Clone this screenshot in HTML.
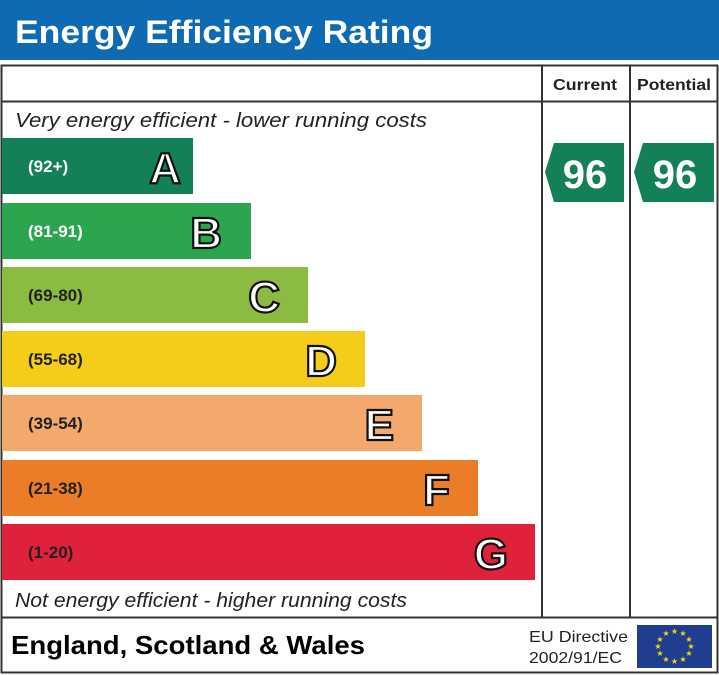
<!DOCTYPE html>
<html><head><style>body{margin:0;background:#fff}svg{display:block}svg text{font-family:"Liberation Sans",Arial,sans-serif}</style></head><body>
<svg width="719" height="675" viewBox="0 0 719 675" xmlns="http://www.w3.org/2000/svg">
<rect x="0" y="0" width="719" height="60" fill="#0e6ab2"/>
<text x="15" y="43" font-size="32" font-weight="bold" fill="#fff" textLength="418" lengthAdjust="spacingAndGlyphs">Energy Efficiency Rating</text>
<rect x="1.5" y="65.5" width="716" height="607" fill="#fff" stroke="#333" stroke-width="2"/>
<line x1="1" y1="101.5" x2="718" y2="101.5" stroke="#333" stroke-width="2"/>
<line x1="1" y1="617.5" x2="718" y2="617.5" stroke="#333" stroke-width="2"/>
<line x1="542" y1="66" x2="542" y2="617" stroke="#333" stroke-width="2"/>
<line x1="630" y1="66" x2="630" y2="617" stroke="#333" stroke-width="2"/>
<text x="553" y="90" font-size="16" font-weight="bold" fill="#222" textLength="64" lengthAdjust="spacingAndGlyphs">Current</text>
<text x="637" y="90" font-size="16" font-weight="bold" fill="#222" textLength="74" lengthAdjust="spacingAndGlyphs">Potential</text>
<text x="15" y="127" font-size="20" font-style="italic" fill="#222" textLength="412" lengthAdjust="spacingAndGlyphs">Very energy efficient - lower running costs</text>
<text x="15" y="607" font-size="20" font-style="italic" fill="#222" textLength="392" lengthAdjust="spacingAndGlyphs">Not energy efficient - higher running costs</text>
<g font-weight="bold">
<rect x="2" y="138" width="191" height="56" fill="#138057"/>
<text x="28" y="172" font-size="17" fill="#fff">(92+)</text>
<text x="181" y="183" font-size="44" fill="#fff" stroke="#111" stroke-width="2.2" text-anchor="end">A</text>
<rect x="2" y="203" width="249" height="56" fill="#2ba64f"/>
<text x="28" y="237" font-size="17" fill="#fff">(81-91)</text>
<text x="222" y="248" font-size="44" fill="#fff" stroke="#111" stroke-width="2.2" text-anchor="end">B</text>
<rect x="2" y="267" width="306" height="56" fill="#8cbb42"/>
<text x="28" y="301" font-size="17" fill="#222">(69-80)</text>
<text x="280" y="312" font-size="44" fill="#fff" stroke="#111" stroke-width="2.2" text-anchor="end">C</text>
<rect x="2" y="331" width="363" height="56" fill="#f5cc1a"/>
<text x="28" y="365" font-size="17" fill="#222">(55-68)</text>
<text x="337" y="376" font-size="44" fill="#fff" stroke="#111" stroke-width="2.2" text-anchor="end">D</text>
<rect x="2" y="395" width="420" height="56" fill="#f2a96b"/>
<text x="28" y="429" font-size="17" fill="#222">(39-54)</text>
<text x="394" y="440" font-size="44" fill="#fff" stroke="#111" stroke-width="2.2" text-anchor="end">E</text>
<rect x="2" y="460" width="476" height="56" fill="#eb7d29"/>
<text x="28" y="494" font-size="17" fill="#222">(21-38)</text>
<text x="450" y="505" font-size="44" fill="#fff" stroke="#111" stroke-width="2.2" text-anchor="end">F</text>
<rect x="2" y="524" width="533" height="56" fill="#e0213c"/>
<text x="28" y="558" font-size="17" fill="#222">(1-20)</text>
<text x="508" y="569" font-size="44" fill="#fff" stroke="#111" stroke-width="2.2" text-anchor="end">G</text>
<polygon points="554,143 624,143 624,202 554,202 545,172" fill="#138057"/>
<text x="585" y="188" font-size="40" fill="#fff" text-anchor="middle">96</text>
<polygon points="643,143 714,143 714,202 643,202 634,172" fill="#138057"/>
<text x="675" y="188" font-size="40" fill="#fff" text-anchor="middle">96</text>
</g>
<text x="11" y="654" font-size="26" font-weight="bold" fill="#000" textLength="354" lengthAdjust="spacingAndGlyphs">England, Scotland &amp; Wales</text>
<text x="529" y="642" font-size="16" fill="#222" textLength="99" lengthAdjust="spacingAndGlyphs">EU Directive</text>
<text x="529" y="663" font-size="16" fill="#222" textLength="93" lengthAdjust="spacingAndGlyphs">2002/91/EC</text>
<rect x="637" y="625" width="75" height="43" fill="#1f3e8f"/>
<g fill="#f5d80c" text-anchor="middle">
<text x="674.5" y="634" font-size="8">★</text><text x="683" y="636" font-size="8">★</text><text x="689" y="642" font-size="8">★</text><text x="691" y="649" font-size="8">★</text><text x="689" y="656" font-size="8">★</text><text x="683" y="662" font-size="8">★</text><text x="674.5" y="664" font-size="8">★</text><text x="666" y="662" font-size="8">★</text><text x="660" y="656" font-size="8">★</text><text x="658" y="649" font-size="8">★</text><text x="660" y="642" font-size="8">★</text><text x="666" y="636" font-size="8">★</text>
</g>
</svg>
</body></html>
